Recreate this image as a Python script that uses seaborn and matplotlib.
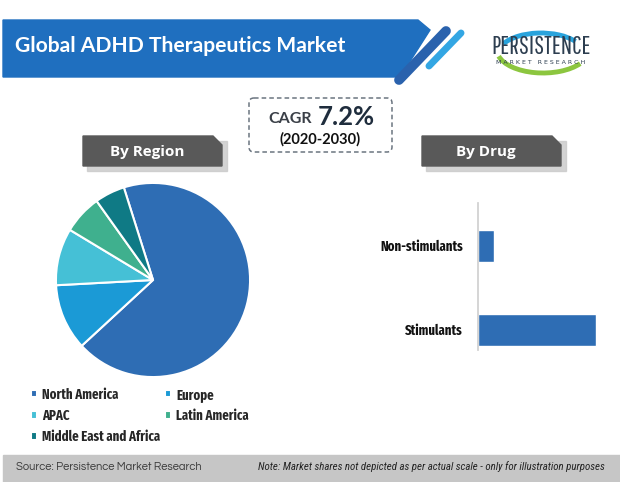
import numpy as np
import pandas as pd
import seaborn as sns
from matplotlib import pyplot as plt
from matplotlib import patches

# data
regions = ['North America', 'Europe', 'APAC', 'Latin America', 'Middle East and Africa']
region_share = [68, 11, 9.5, 6.5, 5]
region_colors = ['#2e6db4', '#1b9ad6', '#45c0d6', '#3fb08e', '#0f7a85']

drugs = ['Non-stimulants', 'Stimulants']
drug_share = [12, 88]

sns.set_theme(style='white')
plt.rcParams['font.family'] = ['DejaVu Sans']
NARROW = ['Roboto Condensed', 'DejaVu Sans']
TALL = ['Fira Sans Extra Condensed', 'Roboto Condensed', 'DejaVu Sans']

W, H = 620, 482
fig = plt.figure(figsize=(W / 100, H / 100), dpi=100)
fig.patch.set_facecolor('white')

def box(x, y, w, h):
    # pixel box (top-left origin) -> figure fraction
    return [x / W, 1 - (y + h) / H, w / W, h / H]

# ---- decorations layer
deco = fig.add_axes([0, 0, 1, 1], zorder=0)
deco.set_xlim(0, W)
deco.set_ylim(H, 0)
deco.axis('off')

# header banner with slanted right end
banner = patches.Polygon([(3, 20), (418, 20), (430, 30), (400, 77), (3, 77)],
                         closed=True, color='#1f6fbf')
deco.add_patch(banner)
deco.plot([446, 399], [31, 80], color='#2a62ad', lw=7, solid_capstyle='round')
deco.plot([461, 429], [33, 66], color='#33a6e3', lw=5, solid_capstyle='round')
deco.text(15, 46, 'Global ADHD Therapeutics Market', color='white',
          fontsize=15.2, fontweight='bold', family='Lato', va='center')

# logo
deco.add_patch(patches.Arc((543, 50), 92, 46, theta1=20, theta2=172,
                           color='#8cc63f', lw=3.5))
deco.add_patch(patches.Arc((541, 54), 86, 42, theta1=195, theta2=340,
                           color='#29a3dc', lw=3.5))
deco.text(541, 47, 'PERSISTENCE', color='#2d3e50', fontsize=18,
          family='Pathway Gothic One', ha='center', va='center')
deco.text(541, 62, 'M A R K E T   R E S E A R C H', color='#2d3e50', fontsize=4.5,
          family='DejaVu Sans', ha='center', va='center')

# CAGR dashed box
deco.add_patch(patches.FancyBboxPatch((249, 98), 143, 54,
                                      boxstyle='round,pad=0,rounding_size=5',
                                      fill=False, ec='#6b7580', lw=1.1, ls=(0, (3, 2))))
deco.text(290, 119, 'CAGR', fontsize=11.5, fontweight='bold', color='#3a3f47',
          ha='center', va='center', family='Lato')
deco.text(346, 117, '7.2%', fontsize=18.5, fontweight='bold', color='#1f2d3d',
          ha='center', va='center', family='Lato')
deco.text(320, 139, '(2020-2030)', fontsize=10.5, fontweight='bold', color='#111111',
          ha='center', va='center', family='Lato')

# section label boxes
def section(x, label):
    deco.add_patch(patches.Polygon([(x + 4, 141), (x + 144, 141), (x + 144, 171), (x + 4, 171)],
                                   closed=True, color='#c9c9c9', alpha=0.8))
    deco.add_patch(patches.Polygon([(x, 136), (x + 130, 136), (x + 139, 145),
                                    (x + 139, 166), (x, 166)],
                                   closed=True, color='#595959'))
    deco.text(x + 64, 152, label, color='white', fontsize=11, fontweight='bold',
              ha='center', va='center', family='Open Sans')

section(83, 'By Region')
section(422, 'By Drug')

# footer
deco.add_patch(patches.Rectangle((3, 455), 617, 27, color='#c6c6c6'))
deco.text(16, 467, 'Source: Persistence Market Research', fontsize=8, color='#3a3a3a',
          va='center', family='Questrial')
deco.text(605, 467, 'Note: Market shares not depicted as per actual scale - only for illustration purposes',
          fontsize=7.8, color='#222222', style='italic', ha='right', va='center',
          family=NARROW)

# ---- pie by region
pie_ax = fig.add_axes(box(54, 181, 198, 198), zorder=2)
wedges, _ = pie_ax.pie(region_share, colors=region_colors, startangle=107.5,
                       counterclock=False,
                       wedgeprops=dict(edgecolor='white', linewidth=1.5))
pie_ax.set_xlim(-1.02, 1.02)
pie_ax.set_ylim(-1.02, 1.02)

order = [0, 2, 4, 1, 3]
fig.legend([wedges[i] for i in order], [regions[i] for i in order],
           ncol=2, loc='upper left', bbox_to_anchor=(18 / W, 1 - 375 / H),
           frameon=False, handlelength=0.45, handleheight=0.45, handletextpad=0.4,
           columnspacing=0.3, labelspacing=0.5,
           prop=dict(family=TALL, weight='bold', size=10))

# ---- bars by drug
bar_ax = fig.add_axes(box(478, 203, 125, 147), zorder=2)
df = pd.DataFrame({'drug': drugs, 'share': drug_share})
sns.barplot(data=df, x='share', y='drug', color='#2e6db4', width=0.38,
            saturation=1, ax=bar_ax)
bar_ax.set_xlim(0, 88 * 125 / 118)
bar_ax.set_ylim(1.24, -0.51)
bar_ax.set_xlabel('')
bar_ax.set_ylabel('')
bar_ax.set_xticks([])
for s in ['top', 'right', 'bottom']:
    bar_ax.spines[s].set_visible(False)
bar_ax.spines['left'].set_color('#d0d0d0')
bar_ax.tick_params(axis='y', length=0, pad=11)
for lab in bar_ax.get_yticklabels():
    lab.set_family(TALL)
    lab.set_fontweight('bold')
    lab.set_fontsize(10)
    lab.set_color('#111111')
bar_ax.set_facecolor('none')

fig.savefig('out.png', dpi=100)
